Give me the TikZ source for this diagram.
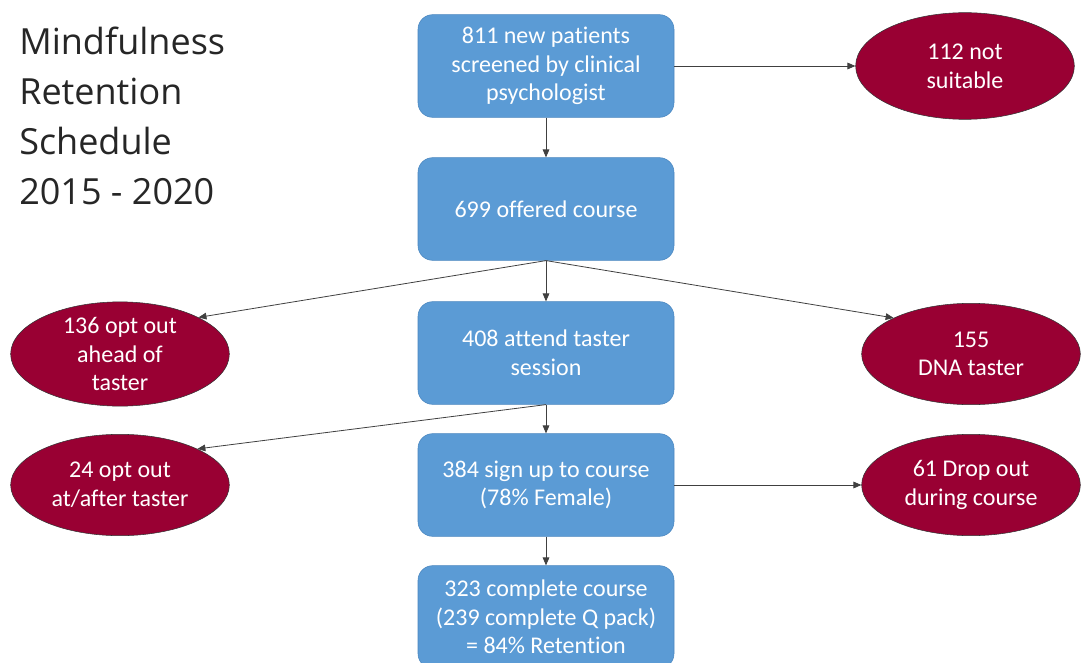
\documentclass[tikz,border=0pt]{standalone}
\usepackage{fontspec}
\setmainfont{Carlito}[Ligatures=NoCommon]
\newfontfamily\titlefont{Open Sans}
\usepackage{xcolor}
\usetikzlibrary{positioning,shapes.geometric,arrows.meta}
\definecolor{boxblue}{HTML}{5B9BD5}
\definecolor{boxedge}{HTML}{4A86BF}
\definecolor{outred}{HTML}{990033}

\begin{document}
\begin{tikzpicture}[x=0.75pt,y=-0.75pt,
    stage/.style={rectangle, rounded corners=11pt, draw=boxedge, fill=boxblue, text=white,
        minimum width=192pt, minimum height=77pt, inner sep=0pt, align=center,
        font=\fontsize{18}{21.5}\selectfont},
    exit/.style={ellipse, draw=black!80, fill=outred, text=white,
        minimum width=164pt, minimum height=76pt, inner sep=0pt, align=center,
        font=\fontsize{18}{21.5}\selectfont},
    flow/.style={draw=black!75, line width=0.6pt, -{Triangle[length=6pt,width=5pt]}}]
    \useasboundingbox (0,0) rectangle (1081,663);
    % Title
    \node[anchor=north west, align=left, inner sep=0pt, text=black!85,
        font=\titlefont\fontsize{27}{37.5}\selectfont] (title) at (19,27)
        {Mindfulness\\Retention\\Schedule\\2015 - 2020};
    % Nodes
    \node[stage] (s1) at (546,66) {811 new patients\\screened by clinical\\psychologist};
    \node[stage] (s2) at (546,209) {699 offered course};
    \node[stage] (s3) at (546,353) {408 attend taster\\session};
    \node[stage] (s4) at (546,485) {384 sign up to course\\(78\% Female)};
    \node[stage] (s5) at (546,617) {323 complete course\\(239 complete Q pack)\\= 84\% Retention};

    \node[exit, minimum height=80pt] (e1) at (965,66) {112 not\\suitable}; % not suitable
    \node[exit] (e2) at (120,354) {136 opt out\\ahead of\\taster};
    \node[exit] (e3) at (971,354) {155\\DNA taster};
    \node[exit] (e4) at (120,485) {24 opt out\\at/after taster};
    \node[exit] (e5) at (971,485) {61 Drop out\\during course};
    % Edges
    \draw[flow] (s1) -- (e1);
    \draw[flow] (s1) -- (s2);
    \draw[flow] (s2.south) -- (s3);
    \draw[flow] (s2.south) -- (e2.25);
    \draw[flow] (s2.south) -- (e3.155);
    \draw[flow] (s3.south) -- (s4);
    \draw[flow] (s3.south) -- (e4.25);
    \draw[flow] (s4) -- (e5);
    \draw[flow] (s4) -- (s5);
\end{tikzpicture}
\end{document}
